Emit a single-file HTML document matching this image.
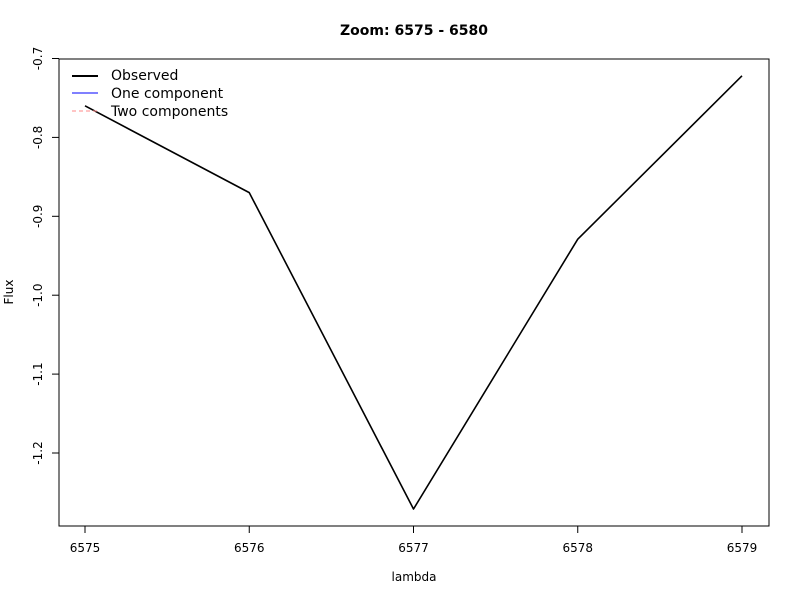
<!DOCTYPE html>
<html><head><meta charset="utf-8"><style>
body{margin:0;background:#fff}
svg text{font-family:"DejaVu Sans","Liberation Sans",sans-serif}
</style></head><body>
<svg id="chart" width="800" height="600" xmlns="http://www.w3.org/2000/svg">
<rect width="800" height="600" fill="#fff"/>
<text x="414" y="35" text-anchor="middle" font-size="14" font-weight="bold">Zoom: 6575 - 6580</text>
<rect x="59" y="59" width="710" height="467" fill="none" stroke="#000" stroke-width="1"/>
<g id="xaxis"></g>
<g id="yaxis"></g>
<text x="414" y="581" text-anchor="middle" font-size="12">lambda</text>
<text transform="translate(13,292) rotate(-90)" text-anchor="middle" font-size="12">Flux</text>
<g id="series"></g>
<g font-size="14">
<line x1="72" y1="76" x2="98" y2="76" stroke="#000" stroke-width="2"/>
<text x="111" y="80">Observed</text>
<line x1="72" y1="93" x2="98" y2="93" stroke="#00f" stroke-width="1"/>
<text x="111" y="98">One component</text>
<line x1="72" y1="111" x2="98" y2="111" stroke="#f88" stroke-width="1" stroke-dasharray="4,3"/>
<text x="111" y="116">Two components</text>
</g>
</svg>
<script>
const lambdas=[6575,6576,6577,6578,6579];
const flux=[-0.760,-0.870,-1.271,-0.929,-0.722];
const xTicks=[6575,6576,6577,6578,6579];
const yTicks=[-1.2,-1.1,-1.0,-0.9,-0.8,-0.7];
const NS="http://www.w3.org/2000/svg";
function sx(v){return 85+(v-6575)*164.25;}
function sy(v){return 58.5+(-0.7-v)*789;}
function mk(tag,attrs,parent){const e=document.createElementNS(NS,tag);for(const k in attrs)e.setAttribute(k,attrs[k]);parent.appendChild(e);return e;}
const xa=document.getElementById('xaxis');
mk('line',{x1:sx(xTicks[0]),y1:526,x2:sx(xTicks[xTicks.length-1]),y2:526,stroke:'#000'},xa);
xTicks.forEach(t=>{
  const l=mk('line',{x1:sx(t),y1:526,x2:sx(t),y2:533,stroke:'#000'},xa);
  
  
  const tx=mk('text',{x:sx(t),y:552,'text-anchor':'middle','font-size':12},xa);
  tx.textContent=t;
  
  
});
const ya=document.getElementById('yaxis');
mk('line',{x1:59,y1:sy(yTicks[0]),x2:59,y2:sy(yTicks[yTicks.length-1]),stroke:'#000'},ya);
yTicks.forEach(t=>{
  const l=mk('line',{x1:52,y1:sy(t),x2:59,y2:sy(t),stroke:'#000'},ya);
  
  
  const tx=mk('text',{transform:`translate(42,${sy(t)}) rotate(-90)`,'text-anchor':'middle','font-size':12},ya);
  tx.textContent=t.toFixed(1);
  
  
});
const s=document.getElementById('series');
const p=mk('polyline',{points:lambdas.map((v,i)=>sx(v)+','+sy(flux[i])).join(' '),fill:'none',stroke:'#000','stroke-width':1.6,'stroke-linejoin':'round'},s);


</script>
</body></html>
